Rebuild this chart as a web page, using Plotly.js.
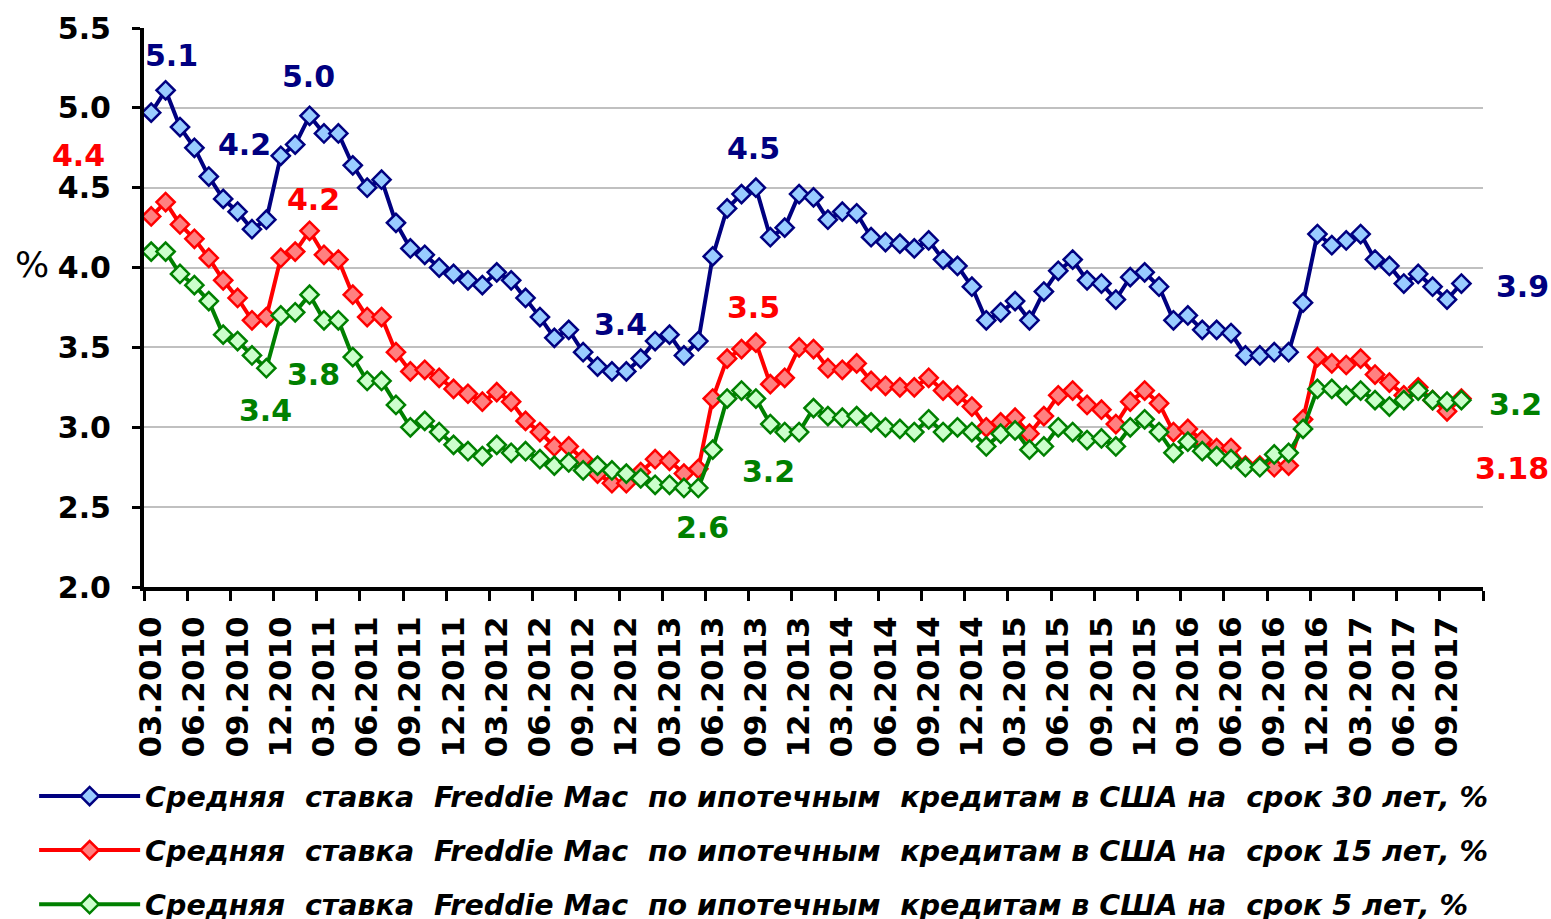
<!DOCTYPE html>
<html>
<head>
<meta charset="utf-8">
<script src="https://cdn.plot.ly/plotly-3.0.1.min.js"></script>
<style>html,body{margin:0;padding:0;background:#fff;}#chart{width:1551px;height:919px;}</style>
</head>
<body>
<div id="chart"></div>
<script>
const months = [
 "03.2010","04.2010","05.2010","06.2010","07.2010","08.2010","09.2010","10.2010","11.2010","12.2010",
 "01.2011","02.2011","03.2011","04.2011","05.2011","06.2011","07.2011","08.2011","09.2011","10.2011","11.2011","12.2011",
 "01.2012","02.2012","03.2012","04.2012","05.2012","06.2012","07.2012","08.2012","09.2012","10.2012","11.2012","12.2012",
 "01.2013","02.2013","03.2013","04.2013","05.2013","06.2013","07.2013","08.2013","09.2013","10.2013","11.2013","12.2013",
 "01.2014","02.2014","03.2014","04.2014","05.2014","06.2014","07.2014","08.2014","09.2014","10.2014","11.2014","12.2014",
 "01.2015","02.2015","03.2015","04.2015","05.2015","06.2015","07.2015","08.2015","09.2015","10.2015","11.2015","12.2015",
 "01.2016","02.2016","03.2016","04.2016","05.2016","06.2016","07.2016","08.2016","09.2016","10.2016","11.2016","12.2016",
 "01.2017","02.2017","03.2017","04.2017","05.2017","06.2017","07.2017","08.2017","09.2017","10.2017"
];

const rate30 = [
 4.97,5.11,4.88,4.75,4.57,4.43,4.35,4.24,4.30,4.70,
 4.77,4.95,4.84,4.84,4.64,4.50,4.55,4.28,4.12,4.08,4.00,3.96,
 3.92,3.89,3.97,3.92,3.81,3.69,3.56,3.61,3.47,3.38,3.35,3.35,
 3.43,3.54,3.58,3.45,3.54,4.07,4.37,4.46,4.50,4.19,4.25,4.46,
 4.44,4.30,4.35,4.34,4.19,4.16,4.15,4.12,4.17,4.05,4.01,3.88,
 3.67,3.72,3.79,3.67,3.85,3.98,4.05,3.92,3.90,3.80,3.94,3.97,
 3.88,3.67,3.70,3.61,3.61,3.59,3.45,3.45,3.47,3.47,3.78,4.21,
 4.14,4.17,4.21,4.05,4.01,3.90,3.96,3.88,3.80,3.90
];

const rate15 = [
 4.32,4.41,4.27,4.18,4.06,3.92,3.81,3.67,3.69,4.06,
 4.10,4.23,4.08,4.05,3.83,3.69,3.69,3.47,3.35,3.36,3.31,3.24,
 3.21,3.16,3.22,3.16,3.04,2.97,2.88,2.88,2.80,2.71,2.65,2.65,
 2.72,2.80,2.79,2.71,2.74,3.18,3.43,3.49,3.53,3.27,3.31,3.50,
 3.49,3.37,3.36,3.40,3.29,3.26,3.25,3.25,3.31,3.23,3.20,3.13,
 3.00,3.03,3.06,2.96,3.07,3.20,3.23,3.14,3.11,3.02,3.16,3.23,
 3.15,2.97,2.99,2.92,2.87,2.87,2.76,2.76,2.75,2.76,3.05,3.44,
 3.40,3.39,3.43,3.33,3.28,3.20,3.25,3.17,3.10,3.18
];

const rate5 = [
 4.10,4.10,3.96,3.89,3.79,3.58,3.54,3.45,3.37,3.70,
 3.72,3.83,3.67,3.67,3.44,3.29,3.29,3.14,3.00,3.04,2.97,2.89,
 2.85,2.82,2.89,2.84,2.85,2.80,2.76,2.78,2.73,2.76,2.73,2.71,
 2.68,2.64,2.64,2.62,2.62,2.86,3.18,3.23,3.18,3.02,2.97,2.97,
 3.12,3.07,3.06,3.07,3.03,3.00,2.99,2.97,3.05,2.97,3.00,2.97,
 2.88,2.96,2.98,2.86,2.88,3.00,2.97,2.92,2.93,2.88,3.00,3.05,
 2.97,2.84,2.91,2.85,2.82,2.80,2.75,2.75,2.83,2.84,2.99,3.24,
 3.24,3.20,3.23,3.17,3.13,3.17,3.23,3.17,3.16,3.17
];

const seriesNames = [
 "Средняя\u00A0 ставка\u00A0 Freddie Mac\u00A0 по ипотечным\u00A0 кредитам в США на\u00A0 срок 30 лет, %",
 "Средняя\u00A0 ставка\u00A0 Freddie Mac\u00A0 по ипотечным\u00A0 кредитам в США на\u00A0 срок 15 лет, %",
 "Средняя\u00A0 ставка\u00A0 Freddie Mac\u00A0 по ипотечным\u00A0 кредитам в США на\u00A0 срок 5 лет, %"
];

const NAVY = "#000080", RED = "#FF0000", GREEN = "#008000";
const seriesData = [rate30, rate15, rate5];
const lineColors = [NAVY, RED, GREEN];
const fillColors = ["#99CCFF", "#FF8080", "#CCFFCC"];

const traces = seriesData.map((vals, k) => ({
  type: "scatter",
  mode: "lines+markers",
  x: months,
  y: vals,
  name: seriesNames[k],
  legendgroup: "g" + k,
  line: {color: lineColors[k], width: 4},
  marker: {symbol: "diamond", size: 14, color: fillColors[k], line: {color: lineColors[k], width: 2.5}},
  hoverinfo: "x+y",
  cliponaxis: false
}));

// data labels: [text, series index, point index, xshift, yshift]
const dataLabels = [
 ["5.1", 0, 1, 6, 35],
 ["4.2", 0, 7, -7, 85],
 ["5.0", 0, 11, -1, 39],
 ["4.4", 1, 1, -87, 47],
 ["4.2", 1, 11, 4, 31],
 ["3.4", 2, 8, -1, -42],
 ["3.8", 2, 11, 4, -80],
 ["3.4", 0, 32, 9, 47],
 ["4.5", 0, 42, -2, 39],
 ["3.5", 1, 42, -2, 35],
 ["3.2", 2, 42, 13, -73],
 ["2.6", 2, 38, 4, -40],
 ["3.9", 0, 91, 61, -3],
 ["3.2", 2, 91, 54, -4],
 ["3.18", 1, 91, 51, -70]
];

// annotation x uses the category index (category strings look numeric)
const annotations = dataLabels.map(d => ({
  text: d[0],
  x: d[2],
  y: seriesData[d[1]][d[2]],
  xref: "x", yref: "y",
  xshift: d[3], yshift: d[4],
  showarrow: false,
  xanchor: "center", yanchor: "middle",
  font: {family: "DejaVu Sans", size: 30, weight: "bold", color: lineColors[d[1]]}
}));

annotations.push({
  text: "%",
  xref: "paper", yref: "y",
  x: -0.0836, y: 4.02,
  showarrow: false,
  xanchor: "center", yanchor: "middle",
  font: {family: "DejaVu Sans", size: 36, color: "black"}
});

const layout = {
  width: 1551, height: 919,
  margin: {l: 144, r: 68, t: 28, b: 332, pad: 0, autoexpand: false},
  paper_bgcolor: "white", plot_bgcolor: "white",
  showlegend: true,
  xaxis: {
    type: "category",
    range: [-0.5, 92.5],
    tickmode: "linear", tick0: 0, dtick: 3,
    tickson: "boundaries",
    ticks: "outside", ticklen: 10, tickwidth: 3, tickcolor: "black",
    tickangle: -90,
    ticklabelstandoff: 13,
    showline: true, linecolor: "black", linewidth: 4,
    showgrid: false, zeroline: false,
    automargin: false,
    tickfont: {family: "DejaVu Sans", size: 31, weight: "bold", color: "black"}
  },
  yaxis: {
    range: [2, 5.5],
    tickmode: "linear", tick0: 2, dtick: 0.5,
    tickformat: ".1f",
    ticks: "outside", ticklen: 8, tickwidth: 3, tickcolor: "black",
    ticklabelstandoff: 15,
    showline: true, linecolor: "black", linewidth: 4,
    showgrid: true, gridcolor: "#C0C0C0", gridwidth: 2,
    zeroline: false,
    automargin: false,
    tickfont: {family: "DejaVu Sans", size: 30, weight: "bold", color: "black"}
  },
  legend: {
    orientation: "v",
    xref: "container", yref: "container",
    x: 0.022, y: 0.161, xanchor: "left", yanchor: "top",
    tracegroupgap: 14,
    itemwidth: 101,
    bgcolor: "rgba(0,0,0,0)",
    font: {family: "DejaVu Sans", size: 28.5, weight: "bold", style: "italic", color: "black"}
  },
  annotations: annotations
};

Plotly.newPlot("chart", traces, layout, {displayModeBar: false, staticPlot: true});
</script>
</body>
</html>
